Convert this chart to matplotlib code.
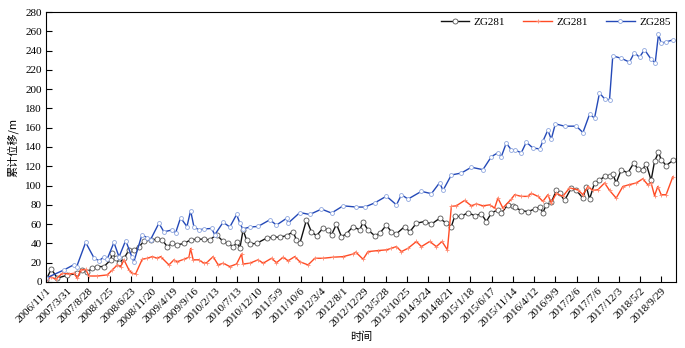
import datetime as dt
import numpy as np
import matplotlib
matplotlib.use("Agg")
import matplotlib.pyplot as plt

plt.rcParams["font.family"] = ["Liberation Serif", "DejaVu Serif"]

start = dt.date(2006, 11, 1)

# days since 2006/11/1 and cumulative displacement (m)
zg281_days = [0, 37, 80, 150, 221, 256, 292, 327, 362, 410, 457, 468, 492, 516, 551, 586, 621, 657,
              692, 739, 786, 821, 857, 892, 927, 975, 1022, 1068, 1116, 1158, 1205, 1252, 1287, 1323,
              1351, 1370, 1393, 1417, 1441, 1488, 1559, 1605, 1653, 1700, 1746, 1770, 1794, 1841, 1876,
              1912, 1958, 1994, 2018, 2053, 2088, 2124, 2170, 2217, 2241, 2276, 2323, 2359, 2406, 2441,
              2477, 2535, 2571, 2618, 2677, 2724, 2782, 2830, 2865, 2888, 2936, 2982, 3030, 3077, 3112,
              3148, 3194, 3218, 3265, 3300, 3312, 3359, 3406, 3453, 3489, 3512, 3536, 3571, 3607, 3630,
              3665, 3713, 3748, 3795, 3819, 3842, 3877, 3912, 3948, 3983, 4006, 4030, 4066, 4112, 4155,
              4183, 4218, 4242, 4277, 4301, 4329, 4348, 4383, 4430]
zg281 = [2, 13.5, 4, 7, 9, 12.5, 10.7, 14, 16, 16, 23, 30, 24.6, 19.5, 24.6, 33, 33, 36.7,
         42, 43.7, 44.4, 43.7, 36.7, 40, 38.5, 40, 43.7, 44.4, 44.4, 43.7, 49, 42, 40, 36.7,
         41, 35, 54, 43.7, 39.5, 40, 45.5, 46.5, 46.5, 48, 52, 43.7, 40, 64.5, 52,
         48, 56, 54, 49, 60, 47, 50, 57.5, 54, 62, 54, 48, 50.6, 59, 52,
         50, 57.5, 52, 61, 62.7, 60, 66, 61, 57.5, 68, 68, 72, 68.7, 70.8, 62.7,
         71.5, 75, 71.5, 80, 79, 77.7, 74, 73, 75.6, 78, 72, 80, 82.5, 95, 92,
         84.6, 97.5, 95, 87, 99, 86, 102.7, 105.4, 109.6, 110, 112, 102.7, 116.5, 113, 123.5,
         117, 116.5, 122.8, 105.4, 125, 134.5, 127, 120.7, 126]

zg281b_days = [0, 33, 69, 115, 162, 198, 221, 245, 280, 304, 362, 433, 468, 504, 528, 551, 586, 609,
               633, 680, 715, 751, 786, 810, 869, 904, 927, 975, 1010, 1022, 1040, 1080, 1116, 1135,
               1181, 1217, 1252, 1299, 1347, 1382, 1393, 1441, 1499, 1535, 1594, 1629, 1676, 1711,
               1758, 1794, 1852, 1900, 1958, 2029, 2100, 2170, 2189, 2241, 2276, 2347, 2406, 2441,
               2477, 2512, 2559, 2618, 2653, 2712, 2759, 2799, 2837, 2865, 2900, 2959, 3006, 3042,
               3088, 3136, 3171, 3194, 3229, 3289, 3312, 3359, 3406, 3430, 3477, 3512, 3547, 3571,
               3607, 3653, 3700, 3758, 3795, 3830, 3865, 3901, 3948, 3983, 4030, 4077, 4124, 4172,
               4218, 4253, 4277, 4301, 4324, 4348, 4383, 4430]
zg281b = [0, 5.5, 2.8, 9, 8.3, 9, 3.8, 12.5, 13, 6.2, 6.2, 7.3, 12.5, 17.7, 16, 23, 12.5, 9,
          8.3, 23.6, 24.6, 26.3, 24.6, 26.3, 17.7, 23, 21, 23.6, 25.7, 34.7, 23, 23, 19.5, 20,
          26.3, 17.7, 19.5, 16, 18.7, 29, 18.7, 19.5, 23, 19.5, 24.6, 20, 25.7, 22,
          26.3, 21, 17.7, 24.6, 24.6, 25.7, 26.3, 29, 31, 23.6, 31.5, 32.6, 33.3, 35,
          36.7, 31.5, 35, 42, 36.7, 42, 36.7, 42, 33.3, 78.4, 79, 84.6, 79, 81,
          79, 80, 76.7, 87, 76.7, 86, 90.5, 88.8, 88.8, 92, 88.8, 83.6, 90.5, 82,
          92, 88.8, 97.5, 95.7, 90.5, 99, 95, 95.7, 102.7, 95, 87, 99, 101, 102.7,
          107, 101, 102.7, 89.5, 99, 90.5, 90.5, 109]

zg285_days = [0, 127, 198, 217, 280, 339, 374, 410, 433, 480, 516, 563, 607, 621, 678, 713, 739, 798,
              833, 892, 916, 951, 996, 1022, 1045, 1080, 1116, 1170, 1193, 1252, 1299, 1347, 1370,
              1391, 1441, 1499, 1582, 1629, 1700, 1711, 1794, 1864, 1947, 2018, 2100, 2194, 2253,
              2323, 2406, 2477, 2512, 2559, 2653, 2724, 2782, 2806, 2865, 2936, 3006, 3088, 3148,
              3194, 3218, 3253, 3289, 3312, 3359, 3395, 3441, 3489, 3512, 3547, 3571, 3600, 3665,
              3748, 3795, 3842, 3877, 3912, 3948, 3983, 4006, 4066, 4124, 4159, 4195, 4230, 4277,
              4306, 4329, 4348, 4383, 4430]
zg285 = [4, 12.5, 18, 16, 41, 25, 22, 26, 24, 41, 26, 43, 26, 21, 49, 46, 44, 61,
         52, 54, 51, 66.6, 57.5, 74, 57.5, 54, 55, 55.5, 49, 62, 57, 70, 61,
         55, 57, 57.6, 64.5, 59, 66, 61, 72, 70, 75.6, 71.5, 79, 77.7, 77.7,
         82, 89, 80, 90.5, 86, 94, 91.6, 103, 95, 111, 113, 119, 116.5, 130,
         134, 130, 144, 137, 137, 134, 145, 139, 138, 146, 157.5, 148, 164, 161.6,
         161.6, 155, 174, 170, 196, 190, 189, 234.5, 232, 228, 238, 233, 241, 231,
         227.5, 257, 247.7, 249, 251]

# date ticks every 150 days, labelled like 2006/11/1
tick_days = np.arange(0, 4351, 150)
tick_labels = []
for d in tick_days:
    t = start + dt.timedelta(days=int(d))
    tick_labels.append(f"{t.year}/{t.month}/{t.day}")

fig = plt.figure(figsize=(6.85, 3.48), dpi=100)
ax = fig.add_axes([0.0672, 0.1897, 0.9197, 0.7758])

ax.plot(zg281_days, zg281, color="#111111", lw=1.0, marker="o", ms=3.6,
        mfc="white", mec="#555555", mew=0.6, label="ZG281")
ax.plot(zg281b_days, zg281b, color="#ff4b24", lw=1.0, marker="+", ms=3,
        mec="#ff8a70", mew=0.6, label="ZG281")
ax.plot(zg285_days, zg285, color="#2449b8", lw=1.0, marker="o", ms=2.8,
        mfc="white", mec="#8ea6de", mew=0.6, label="ZG285")

ax.set_xlim(0, 4453)
ax.set_ylim(0, 280)
ax.set_yticks(np.arange(0, 281, 20))
ax.set_xticks(tick_days)
ax.set_xticklabels(tick_labels, rotation=45, ha="right", rotation_mode="anchor")
ax.tick_params(direction="in", length=4, width=0.8, labelsize=8, pad=3)
for s in ax.spines.values():
    s.set_linewidth(0.8)

ax.set_ylabel("累计位移/m", family=["Noto Sans CJK SC", "DejaVu Sans"], fontsize=8, labelpad=5)
ax.set_xlabel("时间", family=["Noto Sans CJK SC", "DejaVu Sans"], fontsize=8, labelpad=2)

ax.legend(loc="upper right", ncol=3, frameon=False, fontsize=8, handlelength=2.6,
          columnspacing=1.6, handletextpad=0.4, borderaxespad=0.1)

fig.savefig("out.png", dpi=100)
